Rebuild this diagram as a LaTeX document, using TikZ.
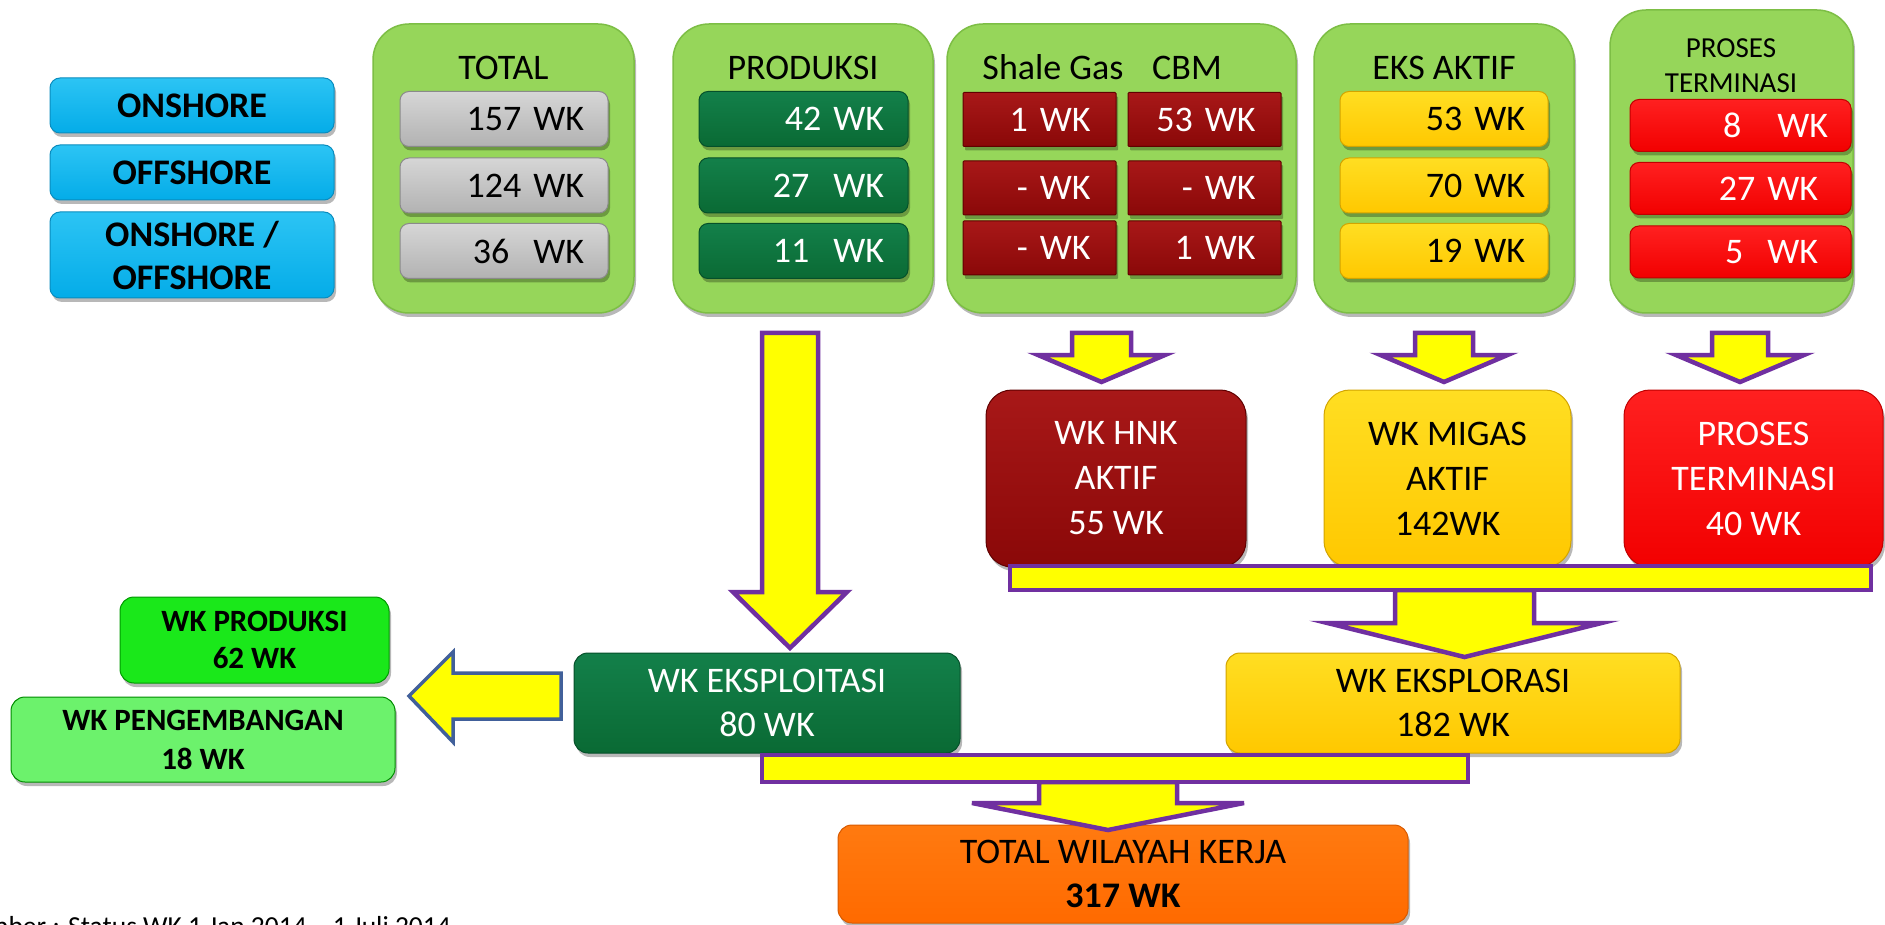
\documentclass[tikz,border=0pt]{standalone}
\usepackage{fontspec}
\setmainfont{Carlito}
\usetikzlibrary{shadows}
\definecolor{panelg}{HTML}{96D65A}
\definecolor{paneledge}{HTML}{7DBE45}
\definecolor{skyt}{HTML}{2CC4F4}
\definecolor{skyb}{HTML}{04ACE8}
\definecolor{skyedge}{HTML}{0A8CBE}
\definecolor{greyt}{HTML}{D6D6D6}
\definecolor{greyb}{HTML}{B2B2B2}
\definecolor{greyedge}{HTML}{8A8A8A}
\definecolor{dgreent}{HTML}{13804A}
\definecolor{dgreen}{HTML}{0A6A34}
\definecolor{dgreenedge}{HTML}{05502A}
\definecolor{dredt}{HTML}{A81818}
\definecolor{dred}{HTML}{8A0808}
\definecolor{drededge}{HTML}{600000}
\definecolor{yelt}{HTML}{FFDE22}
\definecolor{yelb}{HTML}{FFC800}
\definecolor{yeledge}{HTML}{D2A400}
\definecolor{redt}{HTML}{FF2020}
\definecolor{redb}{HTML}{F20000}
\definecolor{rededge}{HTML}{C00000}
\definecolor{orngt}{HTML}{FF7A10}
\definecolor{orng}{HTML}{FF6A00}
\definecolor{orngedge}{HTML}{D85A00}
\definecolor{brgreen}{HTML}{1AE81A}
\definecolor{ltgreen}{HTML}{6CF26C}
\definecolor{purp}{HTML}{7030A0}
\definecolor{arry}{HTML}{FFFF00}
\definecolor{arrblue}{HTML}{41609A}
\newcommand{\fsz}[2]{\fontsize{#1}{#2}\selectfont}
\newcommand{\blkdown}[6]{%
  \draw[arrowsty] (#1-#5,#2) -- (#1+#5,#2) -- (#1+#5,#3) -- (#1+#6,#3) -- (#1,#4)
    -- (#1-#6,#3) -- (#1-#5,#3) -- cycle;}
\begin{document}
\begin{tikzpicture}[x=1pt,y=-1pt,
  sh/.style={drop shadow={shadow xshift=2pt,shadow yshift=-4pt,opacity=0.28,fill=black}},
  panel/.style={sh, draw=paneledge, line width=1.5pt, fill=panelg, rounded corners=36pt, inner sep=0pt},
  hdr/.style={anchor=base, inner sep=0pt, font=\fsz{36}{40}},
  numbox/.style={sh, inner sep=0pt, minimum height=55pt, align=right, font=\fsz{36}{40}, line width=1pt},
  greybox/.style={numbox, rounded corners=9pt, draw=greyedge, top color=greyt, bottom color=greyb, minimum width=208pt, text width=160pt},
  greenbox/.style={numbox, rounded corners=9pt, draw=dgreenedge, top color=dgreent, bottom color=dgreen, minimum width=209pt, text width=161pt, text=white},
  dredbox/.style={numbox, rounded corners=1pt, draw=drededge, top color=dredt, bottom color=dred, minimum width=153pt, text width=102pt, minimum height=54pt, text=white},
  yelbox/.style={numbox, rounded corners=9pt, draw=yeledge, top color=yelt, bottom color=yelb, minimum width=208pt, text width=162pt},
  redbox/.style={numbox, rounded corners=9pt, draw=rededge, top color=redt, bottom color=redb, minimum width=221pt, text width=161pt, minimum height=52pt, text=white},
  bluebox/.style={sh, rounded corners=10pt, draw=skyedge, line width=1pt, top color=skyt, bottom color=skyb, minimum width=284pt, minimum height=55pt, inner sep=0pt, align=center, font=\fsz{36}{43}\bfseries},
  midbox/.style={sh, rounded corners=26pt, line width=1pt, minimum width=260pt, minimum height=177pt, inner sep=0pt, align=center, font=\fsz{36}{45}},
  lowbox/.style={sh, rounded corners=14pt, line width=1pt, minimum height=100pt, inner sep=0pt, align=center, font=\fsz{36}{44}},
  arrowsty/.style={fill=arry, draw=purp, line width=4.5pt, line join=miter}
]
\useasboundingbox (0,0) rectangle (1885,925);
\begin{scope}
\clip (0,0) rectangle (1885,925);
\fill[white] (0,0) rectangle (1885,925);

% panels
\node[panel, minimum width=261pt, minimum height=289pt] (ptotal) at (503.5,168.5) {};
\node[panel, minimum width=260pt, minimum height=289pt] (pprod) at (803,168.5) {};
\node[panel, minimum width=349pt, minimum height=289pt] (pshale) at (1121.5,168.5) {};
\node[panel, minimum width=260pt, minimum height=289pt] (peks) at (1444,168.5) {};
\node[panel, minimum width=243pt, minimum height=303pt] (pterm) at (1731.5,161.5) {};

% headers
\node[hdr] (htotal) at (503.5,80) {TOTAL};
\node[hdr] (hprod) at (803,80) {PRODUKSI};
\node[hdr] (hshale) at (1053,80) {Shale Gas};
\node[hdr] (hcbm) at (1187,80) {CBM};
\node[hdr] (heks) at (1444,80) {EKS AKTIF};
\node[hdr, font=\fsz{29}{35}] (hterma) at (1731,58) {PROSES};
\node[hdr, font=\fsz{29}{35}] (htermb) at (1731,93) {TERMINASI};

% number boxes
\node[greybox] (g1) at (504,119) {157 WK};
\node[greybox] (g2) at (504,185.5) {124 WK};
\node[greybox] (g3) at (504,251) {36\ \ WK};

\node[greenbox] (gr1) at (803.5,119) {42 WK};
\node[greenbox] (gr2) at (803.5,185.5) {27\ \ WK};
\node[greenbox] (gr3) at (803.5,251) {11\ \ WK};

\node[dredbox] (sl1) at (1039.5,119.5) {1 WK};
\node[dredbox] (sl2) at (1039.5,188) {- WK};
\node[dredbox] (sl3) at (1039.5,248) {- WK};
\node[dredbox] (cb1) at (1204.5,119.5) {53 WK};
\node[dredbox] (cb2) at (1204.5,188) {- WK};
\node[dredbox] (cb3) at (1204.5,248) {1 WK};

\node[yelbox] (y1) at (1444,119) {53 WK};
\node[yelbox] (y2) at (1444,185.5) {70 WK};
\node[yelbox] (y3) at (1444,251) {19 WK};

\node[redbox, text width=175pt] (r1) at (1740.5,125.5) {8\ \ \ WK};
\node[redbox, text width=155pt] (r2) at (1740.5,188.5) {27 WK};
\node[redbox, text width=155pt] (r3) at (1740.5,252) {5\ \ WK};

% blue boxes
\node[bluebox] (on) at (192,105.5) {ONSHORE};
\node[bluebox] (off) at (192,172.5) {OFFSHORE};
\node[bluebox, minimum height=86pt] (onoff) at (192,255) {ONSHORE /\\OFFSHORE};

% middle boxes
\node[midbox, draw=drededge, top color=dredt, bottom color=dred, text=white] (hnk) at (1116,478.5) {WK HNK\\AKTIF\\55 WK};
\node[midbox, minimum width=247pt, draw=yeledge, top color=yelt, bottom color=yelb] (migas) at (1447.5,478.5) {WK MIGAS\\AKTIF\\142WK};
\node[midbox, minimum width=259pt, draw=rededge, top color=redt, bottom color=redb, text=white] (term) at (1753.5,478.5) {PROSES\\TERMINASI\\40 WK};

% lower boxes
\node[lowbox, minimum width=386pt, draw=dgreenedge, top color=dgreent, bottom color=dgreen, text=white] (explt) at (767,703) {WK EKSPLOITASI\\80 WK};
\node[lowbox, minimum width=454pt, draw=yeledge, top color=yelt, bottom color=yelb] (explr) at (1453,703) {WK EKSPLORASI\\182 WK};
\node[lowbox, minimum width=570pt, minimum height=98pt, draw=orngedge, top color=orngt, bottom color=orng] (total) at (1123,874) {TOTAL WILAYAH KERJA\\\textbf{317 WK}};
\node[lowbox, minimum width=269pt, minimum height=86pt, draw=green!60!black, fill=brgreen, font=\fsz{31}{37}\bfseries] (wkprod) at (254.5,640) {WK PRODUKSI\\62 WK};
\node[lowbox, minimum width=384pt, minimum height=85pt, draw=green!55!black, fill=ltgreen, font=\fsz{31}{39}\bfseries] (wkpeng) at (203,739.5) {WK PENGEMBANGAN\\18 WK};

% source line (cut at the bottom and left edges, as in the reference)
\node[anchor=base east, inner sep=0pt, font=\fsz{27.5}{30}] (src) at (451,935) {Sumber : Status WK 1 Jan 2014 -- 1 Juli 2014};

% block arrows
\blkdown{790}{333}{592}{648}{28}{57}
\blkdown{1101.5}{333}{355}{382}{29.5}{63.5}
\blkdown{1444}{333}{355}{382}{29}{63.5}
\blkdown{1740}{333}{355}{382}{28}{64}
\blkdown{1464.5}{590}{623}{657}{69.5}{137}
\blkdown{1108}{782}{803}{830}{69}{136}
\draw[arrowsty] (1010,566) rectangle (1871,590);
\draw[arrowsty] (762,755) rectangle (1468,782);
\draw[fill=arry, draw=arrblue, line width=3.5pt, line join=miter]
  (561,673) -- (453,673) -- (453,652) -- (409,696) -- (453,742) -- (453,719) -- (561,719) -- cycle;
\end{scope}
\end{tikzpicture}
\end{document}
